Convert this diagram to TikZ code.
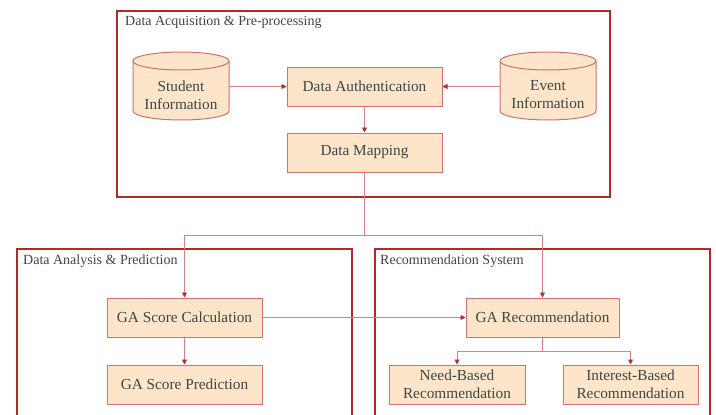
\documentclass[tikz,border=0pt]{standalone}
\usepackage{fontspec}
\setmainfont{Liberation Serif}
\usetikzlibrary{arrows.meta}
\definecolor{framered}{HTML}{B02A2A}
\definecolor{boxfill}{HTML}{FCE5C8}
\definecolor{boxline}{HTML}{D07070}
\definecolor{linkred}{HTML}{D88080}
\definecolor{tipred}{HTML}{B03030}
\definecolor{txt}{HTML}{3E4646}
\tikzset{
  frame/.style={draw=framered, line width=2pt},
  proc/.style={draw=boxline, fill=boxfill, line width=1pt, minimum width=155pt, minimum height=39pt, inner sep=1pt, align=center, text=txt, font=\fontsize{15.3}{18}\selectfont},
  txtnode/.style={align=center, text=txt, font=\fontsize{15.3}{18}\selectfont},
  cyl/.style={draw=boxline, fill=boxfill, line width=1pt},
  title/.style={anchor=base west, text=txt, inner sep=0pt, font=\fontsize{14}{16}\selectfont},
  link/.style={draw=linkred, line width=0.9pt, -{Triangle[width=5pt,length=5pt,color=tipred]}},
  plain/.style={draw=linkred, line width=0.9pt}
}
\begin{document}
\begin{tikzpicture}[x=1pt,y=-1pt]
\useasboundingbox (0,0) rectangle (716,415);
\clip (0,0) rectangle (716,415);
% frames
\draw[frame] (117,11) rectangle (610,197);
\draw[frame] (17,249) rectangle (352,430);
\draw[frame] (375,249) rectangle (710,430);
\node[title] (t1) at (125,26) {Data Acquisition \& Pre-processing};
\node[title] (t2) at (23,264) {Data Analysis \& Prediction};
\node[title] (t3) at (380,264) {Recommendation System};
% cylinders
\path[cyl] (133,61) -- (133,111) arc[start angle=180,end angle=360,x radius=48pt,y radius=9pt] -- (229,61) arc[start angle=0,end angle=180,x radius=48pt,y radius=9pt] -- cycle;
\draw[boxline, line width=1pt] (133,61) arc[start angle=180,end angle=360,x radius=48pt,y radius=9pt];
\node[txtnode, minimum width=96pt, minimum height=50pt, inner sep=0pt] (stu) at (181,95) {Student\\Information};
\path[cyl] (500,61) -- (500,111) arc[start angle=180,end angle=360,x radius=48pt,y radius=9pt] -- (596,61) arc[start angle=0,end angle=180,x radius=48pt,y radius=9pt] -- cycle;
\draw[boxline, line width=1pt] (500,61) arc[start angle=180,end angle=360,x radius=48pt,y radius=9pt];
\node[txtnode, minimum width=96pt, minimum height=50pt, inner sep=0pt] (evt) at (548,95) {Event\\Information};
% boxes
\node[proc] (auth) at (364.5,86.5) {Data Authentication};
\node[proc] (map) at (364.5,152.5) {Data Mapping};
\node[proc] (calc) at (184.5,317.5) {GA Score Calculation};
\node[proc] (pred) at (184.5,384.5) {GA Score Prediction};
\node[proc, minimum width=153pt] (rec) at (542.5,317.5) {GA Recommendation};
\node[proc, minimum width=136pt] (need) at (457,384.5) {Need-Based\\Recommendation};
\node[proc, minimum width=135pt] (int) at (630.5,384.5) {Interest-Based\\Recommendation};
% connectors
\coordinate (j) at (364.5,235);
\coordinate (b) at (542.5,351);
\draw[link] (stu.east |- auth.west) -- (auth.west);
\draw[link] (evt.west |- auth.east) -- (auth.east);
\draw[link] (auth) -- (map);
\draw[plain] (map.south) -- (j);
\draw[link] (j) -| (calc.north);
\draw[link] (j) -| (rec.north);
\draw[link] (calc) -- (rec);
\draw[link] (calc) -- (pred);
\draw[plain] (rec.south) -- (b);
\draw[link] (b) -| (need.north);
\draw[link] (b) -| (int.north);
\end{tikzpicture}
\end{document}
